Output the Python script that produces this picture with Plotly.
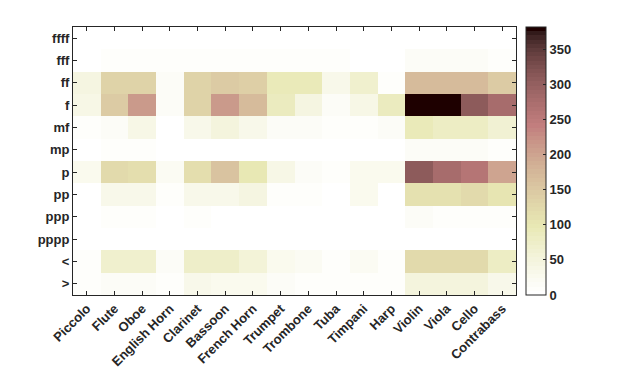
import numpy as np
import plotly.graph_objects as go

instruments = ["Piccolo", "Flute", "Oboe", "English Horn", "Clarinet", "Bassoon",
               "French Horn", "Trumpet", "Trombone", "Tuba", "Timpani", "Harp",
               "Violin", "Viola", "Cello", "Contrabass"]
dynamics = ["ffff", "fff", "ff", "f", "mf", "mp", "p", "pp", "ppp", "pppp", "<", ">"]

row_ffff = [0, 0, 0, 0, 0, 0, 0, 0, 0, 0, 0, 0, 0, 0, 0, 0]
row_fff  = [0, 10, 10, 8, 10, 10, 10, 8, 8, 8, 0, 0, 12, 12, 12, 10]
row_ff   = [45, 135, 135, 15, 135, 145, 140, 90, 90, 30, 70, 10, 170, 170, 170, 145]
row_f    = [40, 145, 210, 15, 135, 210, 170, 85, 45, 15, 40, 85, 382, 382, 310, 280]
row_mf   = [10, 15, 40, 5, 35, 50, 30, 15, 15, 8, 8, 15, 95, 80, 80, 60]
row_mp   = [0, 10, 10, 0, 0, 0, 0, 0, 0, 0, 0, 0, 15, 12, 12, 10]
row_p    = [25, 125, 115, 20, 115, 160, 100, 40, 15, 10, 25, 25, 305, 280, 260, 200]
row_pp   = [0, 35, 35, 10, 35, 35, 45, 10, 10, 0, 25, 5, 110, 110, 125, 105]
row_ppp  = [0, 8, 8, 0, 8, 0, 0, 0, 0, 0, 0, 0, 15, 10, 10, 8]
row_pppp = [0, 0, 0, 0, 0, 0, 0, 0, 0, 0, 0, 0, 0, 0, 0, 0]
row_cresc = [8, 70, 70, 15, 75, 75, 55, 25, 20, 8, 20, 8, 125, 120, 125, 80]
row_dim   = [8, 15, 15, 8, 35, 25, 25, 15, 10, 8, 8, 8, 50, 50, 50, 35]

z = [row_ffff, row_fff, row_ff, row_f, row_mf, row_mp, row_p, row_pp,
     row_ppp, row_pppp, row_cresc, row_dim]

# MATLAB pink colormap (64), flipped
m = 64
n = int(3 / 8 * m)
r = np.concatenate([np.arange(1, n + 1) / n, np.ones(m - n)])
g = np.concatenate([np.zeros(n), np.arange(1, n + 1) / n, np.ones(m - 2 * n)])
b = np.concatenate([np.zeros(2 * n), np.arange(1, m - 2 * n + 1) / (m - 2 * n)])
gray = np.linspace(0, 1, m)
pink = np.sqrt((2 * gray[:, None] + np.stack([r, g, b], axis=1)) / 3)
pink = pink[::-1]
colorscale = []
for i in range(m):
    c = pink[i]
    col = "rgb(%d,%d,%d)" % tuple(int(round(v * 255)) for v in c)
    colorscale.append([i / m, col])
    colorscale.append([(i + 1) / m, col])

fam = "Liberation Sans, Arial, sans-serif"
tfont = dict(family=fam, size=13, color="#262626", weight="bold")

fig = go.Figure(go.Heatmap(
    z=z, x=instruments, y=dynamics,
    colorscale=colorscale, zmin=0, zmax=382,
    colorbar=dict(
        x=1.0226, xanchor="left", xref="paper",
        y=0, yanchor="bottom", len=1, lenmode="fraction",
        thickness=20, thicknessmode="pixels",
        outlinecolor="#262626", outlinewidth=1,
        ticks="inside", ticklen=3, tickcolor="#262626",
        tickvals=[0, 50, 100, 150, 200, 250, 300, 350],
        tickfont=tfont,
        ypad=0, xpad=0,
    ),
))

# page body has an 8px margin, so the figure offsets are shifted by 8px
fig.update_layout(
    width=604, height=365,
    margin=dict(l=65, r=96, t=19, b=78, autoexpand=False),
    paper_bgcolor="white", plot_bgcolor="white",
    font=dict(family=fam, size=13, color="#262626"),
    xaxis=dict(
        tickangle=-45, ticks="inside", ticklen=4, tickcolor="#262626",
        showline=True, linecolor="#262626", linewidth=1, mirror="allticks",
        tickfont=tfont, showgrid=False, automargin=False,
    ),
    yaxis=dict(
        autorange="reversed", ticks="inside", ticklen=4, tickcolor="#262626",
        showline=True, linecolor="#262626", linewidth=1, mirror="allticks",
        tickfont=tfont, showgrid=False, automargin=False,
    ),
)

fig.write_html("out.html")
